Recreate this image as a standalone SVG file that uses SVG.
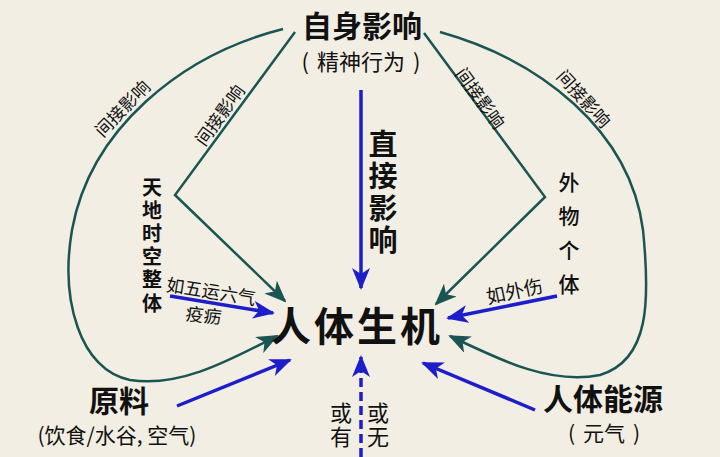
<svg xmlns="http://www.w3.org/2000/svg" width="720" height="457" viewBox="0 0 720 457">
<style>
text{font-family:"Noto Sans CJK SC","Noto Sans",sans-serif;fill:#111;text-anchor:middle}
.t{font-weight:700}
.v{writing-mode:vertical-rl;text-anchor:start}
.teal{fill:none;stroke:#1b5553;stroke-width:2.5}
.blue{fill:none;stroke:#1d1dc9;stroke-width:3.5}
.dash{stroke-dasharray:9 5}
.lbl{font-size:17.5px}
</style>
<defs>
<marker id="ah-teal" viewBox="0 0 22 18" markerWidth="22" markerHeight="18" refX="20" refY="9" orient="auto" markerUnits="userSpaceOnUse"><path d="M0,0 L22,9 L0,18 L6,9 z" fill="#1b5553"/></marker>
<marker id="ah-blue" viewBox="0 0 22 18" markerWidth="22" markerHeight="18" refX="20" refY="9" orient="auto" markerUnits="userSpaceOnUse"><path d="M0,0 L22,9 L0,18 L6,9 z" fill="#1d1dc9"/></marker>
</defs>
<rect width="720" height="457" fill="#f2eee3"/>
<g id="connectors">
<path class="teal" d="M283,29 C180,55 90,130 72,230 C60,300 80,370 130,380 C180,388 230,360 277,336" marker-end="url(#ah-teal)"/>
<path class="teal" d="M295,32 L175,195 L285,301" marker-end="url(#ah-teal)"/>
<path class="teal" d="M424,33 L545,197 L436,304" marker-end="url(#ah-teal)"/>
<path class="teal" d="M440,32 C540,60 630,130 643,230 C650,300 650,360 600,375 C550,385 500,360 450,336" marker-end="url(#ah-teal)"/>
<path class="blue" d="M361,90 L361,288" marker-end="url(#ah-blue)"/>
<path class="blue" d="M170,296 L273,313" marker-end="url(#ah-blue)"/>
<path class="blue" d="M177,406 L290,360" marker-end="url(#ah-blue)"/>
<path class="blue" d="M557,296 L448,318" marker-end="url(#ah-blue)"/>
<path class="blue" d="M535,410 L423,363" marker-end="url(#ah-blue)"/>
<path class="blue dash" d="M361,457 L361,357" marker-end="url(#ah-blue)"/>
<text class="lbl" transform="translate(127,113) rotate(-46)">间接影响</text>
<text class="lbl" transform="translate(225,119) rotate(-54)">间接影响</text>
<text class="lbl" transform="translate(475,102) rotate(54)">间接影响</text>
<text class="lbl" transform="translate(579,103) rotate(48)">间接影响</text>
<text class="t v" x="383" y="129" style="font-size:29px;letter-spacing:3px">直接影响</text>
<text style="font-size:18px" transform="translate(210,298) rotate(9)">如五运六气</text>
<text style="font-size:18px" transform="translate(203,322) rotate(6)">疫疬</text>
<text style="font-size:19px" transform="translate(516,298) rotate(-12)">如外伤</text>
<text class="v" x="341" y="402" style="font-size:22px;letter-spacing:2px">或有</text>
<text class="v" x="378" y="402" style="font-size:22px;letter-spacing:2px">或无</text>
</g>
<g id="self">
<text class="t" x="362" y="37" style="font-size:30px">自身影响</text>
<text x="361" y="70" style="font-size:22px">(<tspan dx="8">精神行为</tspan><tspan dx="8">)</tspan></text>
</g>
<g id="core">
<text class="t" x="357" y="341" style="font-size:40px;letter-spacing:3px">人体生机</text>
</g>
<g id="tiandi">
<text class="t v" x="152" y="177" style="font-size:20px;letter-spacing:3.2px">天地时空整体</text>
</g>
<g id="waiwu">
<text class="v" x="569" y="172" style="font-size:21px;font-weight:500;letter-spacing:13px">外物个体</text>
</g>
<g id="yuanliao">
<text class="t" x="119" y="412" style="font-size:30px">原料</text>
<text x="117" y="443" style="font-size:21px">(饮食/水谷, 空气)</text>
</g>
<g id="nengyuan">
<text class="t" x="603" y="410" style="font-size:30px">人体能源</text>
<text x="604" y="441" style="font-size:21px">(<tspan dx="8">元气</tspan><tspan dx="8">)</tspan></text>
</g>
</svg>
